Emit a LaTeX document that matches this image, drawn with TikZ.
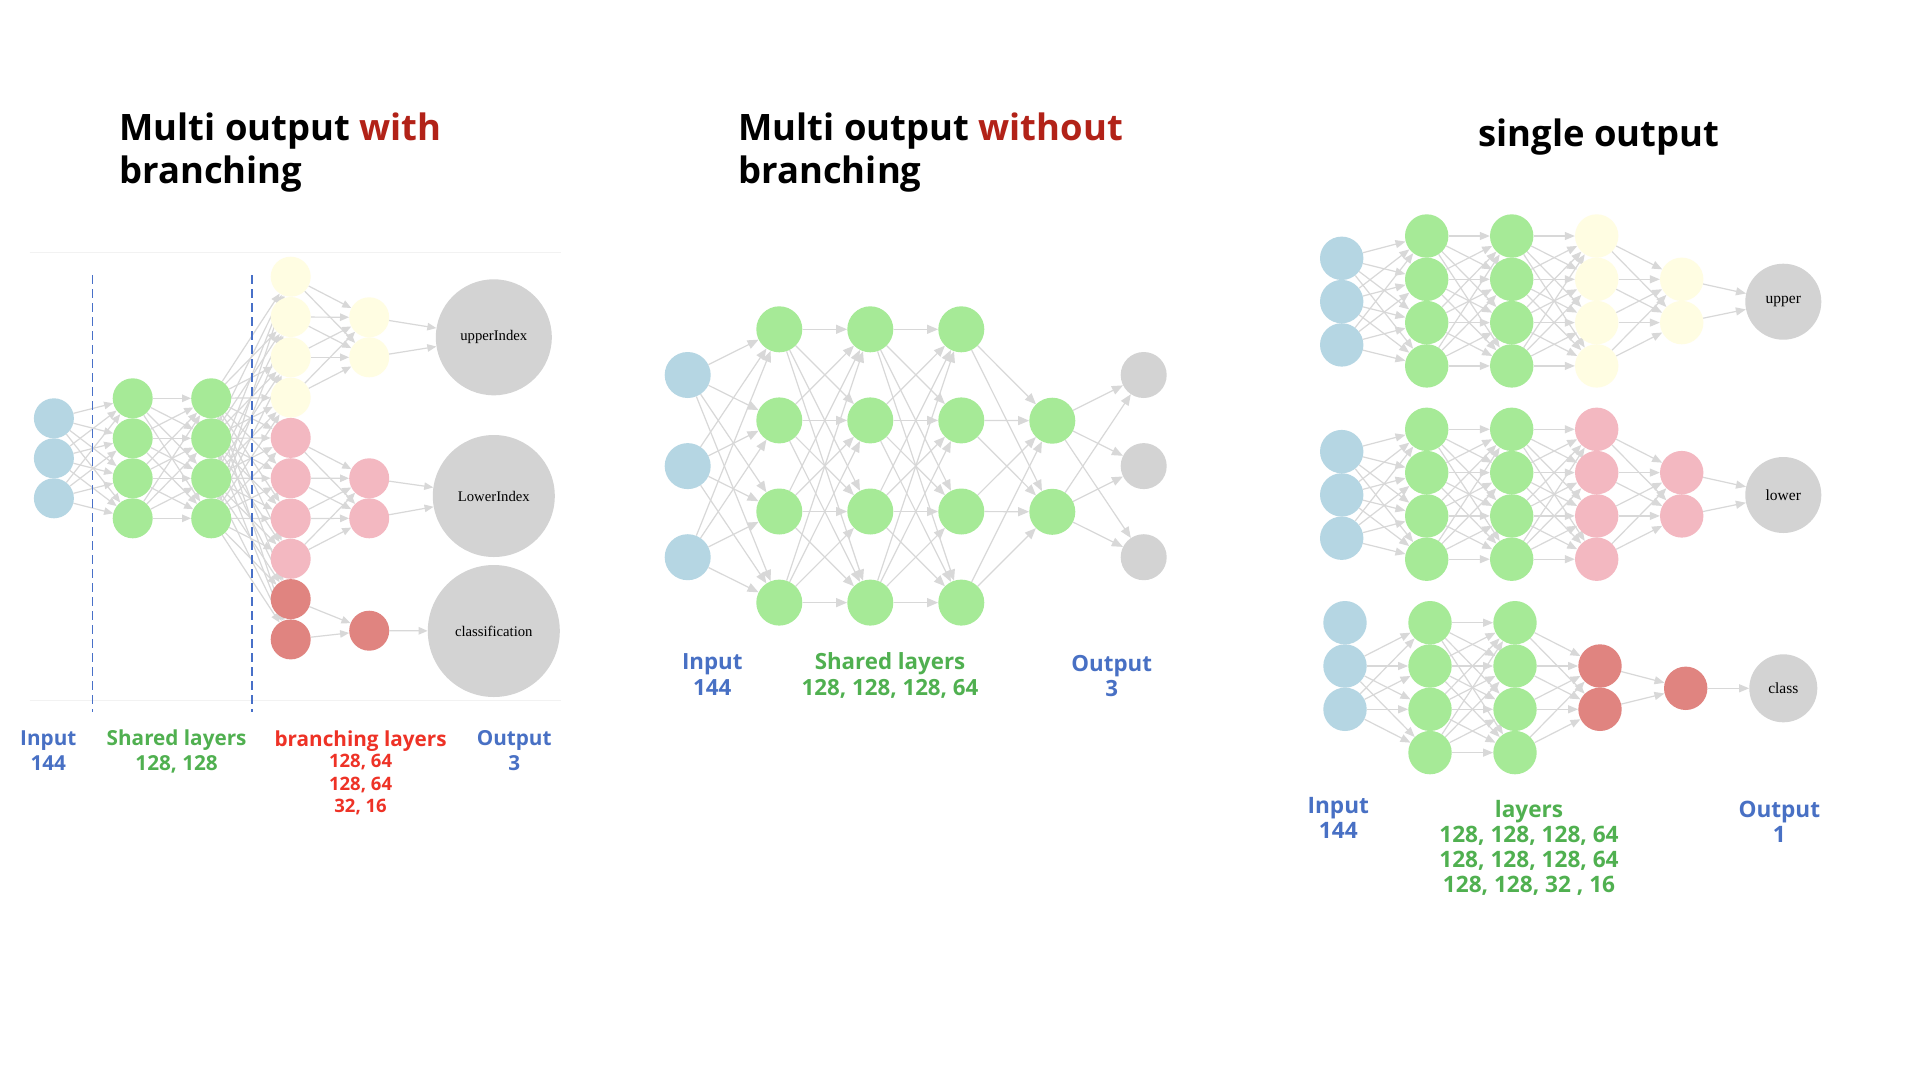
\documentclass[tikz,border=0pt]{standalone}
\usepackage{fontspec}
\setmainfont{Open Sans}
\newfontfamily\nodefont{Liberation Serif}
\usetikzlibrary{arrows.meta}

\definecolor{inblue}{RGB}{181,214,227}
\definecolor{hidgreen}{RGB}{166,234,151}
\definecolor{upyellow}{RGB}{255,253,226}
\definecolor{lowpink}{RGB}{243,184,193}
\definecolor{clsred}{RGB}{224,132,128}
\definecolor{outgray}{RGB}{211,211,211}
\definecolor{edgegray}{RGB}{216,216,216}
\definecolor{lblblue}{RGB}{72,112,196}
\definecolor{lblgreen}{RGB}{80,176,80}
\definecolor{lblred}{RGB}{238,50,38}
\definecolor{titlered}{RGB}{178,34,24}
\definecolor{dashblue}{RGB}{72,112,200}
\definecolor{framegray}{RGB}{242,242,242}

\pgfdeclarelayer{back}
\pgfdeclarelayer{edges}
\pgfsetlayers{back,edges,main}

\tikzset{
  neuron/.style={circle, draw=none, inner sep=0pt},
  conn/.style={->, draw=edgegray, line width=1.2pt},
  title/.style={anchor=base west, font=\fontsize{36.4}{43}\selectfont\bfseries},
  lbl/.style={anchor=base, align=center, font=\fontsize{20.7}{24.3}\selectfont\bfseries},
}

\begin{document}
\begin{tikzpicture}[x=1pt, y=-1pt]
  \begin{pgfonlayer}{back}
    \fill[white] (0,0) rectangle (1920,1080);
  \end{pgfonlayer}
  \useasboundingbox (0,0) rectangle (1920,1080);

  % Multi output with branching
  \node[title] (ttl-a1) at (116,140) {Multi output \textcolor{titlered}{with}};
  \node[title] (ttl-a2) at (116,183.3) {branching};
  \draw[framegray, line width=1pt] (29.7,252.7) -- (561,252.7);
  \draw[framegray, line width=1pt] (29.7,700) -- (561,700);
  \draw[dashblue, line width=1.6pt, dash pattern=on 9pt off 5pt] (92.6,275) -- (92.6,711.7);
  \draw[dashblue, line width=1.6pt, dash pattern=on 9pt off 5pt] (252.1,275) -- (252.1,711.7);

  \foreach \i in {1,2,3}
    \node[neuron, fill=inblue, minimum size=40pt] (a-in\i) at (53.9,378.3+40*\i) {};
  \foreach \i in {1,...,4} {
    \node[neuron, fill=hidgreen, minimum size=40pt] (a-h1-\i) at (132.7,358.3+40*\i) {};
    \node[neuron, fill=hidgreen, minimum size=40pt] (a-h2-\i) at (211.2,358.3+40*\i) {};
  }
  \foreach \i/\c in {1/upyellow,2/upyellow,3/upyellow,4/upyellow,5/lowpink,6/lowpink,7/lowpink,8/lowpink,9/clsred,10/clsred}
    \node[neuron, fill=\c, minimum size=40pt] (a-b\i) at (290.7,236.4+40.3*\i) {};
  \foreach \i/\y in {1/317.3,2/357.3}
    \node[neuron, fill=upyellow, minimum size=40pt] (a-up\i) at (369.2,\y) {};
  \foreach \i/\y in {1/478.3,2/518.3}
    \node[neuron, fill=lowpink, minimum size=40pt] (a-lo\i) at (369.2,\y) {};
  \node[neuron, fill=clsred, minimum size=40pt] (a-cl) at (369.2,630.7) {};

  \node[neuron, fill=outgray, minimum size=116pt, font=\nodefont\fontsize{14.7}{16}\selectfont] (a-upper) at (493.8,337.3) {upperIndex};
  \node[neuron, fill=outgray, minimum size=122pt, font=\nodefont\fontsize{14.7}{16}\selectfont] (a-lower) at (493.8,496) {LowerIndex};
  \node[neuron, fill=outgray, minimum size=132pt, font=\nodefont\fontsize{14.7}{16}\selectfont] (a-class) at (493.8,631) {classification};

  \begin{pgfonlayer}{edges}
  \begin{scope}[>={Triangle[length=9pt,width=7.5pt]}]
    \foreach \i in {1,2,3} \foreach \j in {1,...,4} \draw[conn] (a-in\i) -- (a-h1-\j);
    \foreach \i in {1,...,4} \foreach \j in {1,...,4} \draw[conn] (a-h1-\i) -- (a-h2-\j);
    \foreach \i in {1,...,4} \foreach \j in {1,...,10} \draw[conn] (a-h2-\i) -- (a-b\j);
    \foreach \i in {1,...,4} \foreach \j in {1,2} \draw[conn] (a-b\i) -- (a-up\j);
    \foreach \i in {5,...,8} \foreach \j in {1,2} \draw[conn] (a-b\i) -- (a-lo\j);
    \foreach \i in {9,10} \draw[conn] (a-b\i) -- (a-cl);
    \foreach \j in {1,2} {
      \draw[conn] (a-up\j) -- (a-upper);
      \draw[conn] (a-lo\j) -- (a-lower);
    }
    \draw[conn] (a-cl) -- (a-class);
  \end{scope}
  \end{pgfonlayer}

  \node[lbl, text=lblblue] (a-lin) at (48.3,770) {Input\\144};
  \node[lbl, text=lblgreen] (a-lsh) at (176.6,770) {Shared layers\\128, 128};
  \node[lbl, text=lblred] (a-lbr) at (360.6,746) {branching layers};
  \node[lbl, text=lblred, font=\fontsize{18.5}{22.3}\selectfont\bfseries] (a-lbn) at (360.6,812.3) {128, 64\\128, 64\\32, 16};
  \node[lbl, text=lblblue] (a-lout) at (514.2,770) {Output\\3};

  % Multi output without branching
  \node[title] (ttl-b1) at (735,140) {Multi output \textcolor{titlered}{without}};
  \node[title] (ttl-b2) at (735,183.3) {branching};

  \foreach \i in {1,2,3} {
    \node[neuron, fill=inblue, minimum size=46pt] (b-in\i) at (687.7,283.9+91.1*\i) {};
    \node[neuron, fill=outgray, minimum size=46pt] (b-out\i) at (1143.7,283.9+91.1*\i) {};
  }
  \foreach \k/\x in {1/779.3,2/870.3,3/961.3}
    \foreach \i in {1,...,4}
      \node[neuron, fill=hidgreen, minimum size=46pt] (b-h\k-\i) at (\x,238.2+91.1*\i) {};
  \foreach \i in {1,2}
    \node[neuron, fill=hidgreen, minimum size=46pt] (b-h4-\i) at (1052.3,329.6+91.1*\i) {};

  \begin{pgfonlayer}{edges}
  \begin{scope}[>={Triangle[length=11pt,width=9pt]}]
    \foreach \i in {1,2,3} \foreach \j in {1,...,4} \draw[conn] (b-in\i) -- (b-h1-\j);
    \foreach \i in {1,...,4} \foreach \j in {1,...,4} {
      \draw[conn] (b-h1-\i) -- (b-h2-\j);
      \draw[conn] (b-h2-\i) -- (b-h3-\j);
    }
    \foreach \i in {1,...,4} \foreach \j in {1,2} \draw[conn] (b-h3-\i) -- (b-h4-\j);
    \foreach \i in {1,2} \foreach \j in {1,2,3} \draw[conn] (b-h4-\i) -- (b-out\j);
  \end{scope}
  \end{pgfonlayer}

  \node[lbl, text=lblblue, font=\fontsize{22.3}{25.7}\selectfont\bfseries] (b-lin) at (712.3,695) {Input\\144};
  \node[lbl, text=lblgreen, font=\fontsize{22.3}{25.7}\selectfont\bfseries] (b-lsh) at (890,695) {Shared layers\\128, 128, 128, 64};
  \node[lbl, text=lblblue, font=\fontsize{22.3}{25.7}\selectfont\bfseries] (b-lout) at (1111.7,696.7) {Output\\3};

  % single output
  \node[title] (ttl-c) at (1475,146) {single output};

  \foreach \n/\dy/\c in {u/0/upyellow, l/193.3/lowpink} {
    \foreach \i in {1,2,3}
      \node[neuron, fill=inblue, minimum size=43.4pt] (c\n-in\i) at (1341.7,215+43.3*\i+\dy) {};
    \foreach \i in {1,...,4} {
      \node[neuron, fill=hidgreen, minimum size=43.4pt] (c\n-h1-\i) at (1426.7,192.7+43.3*\i+\dy) {};
      \node[neuron, fill=hidgreen, minimum size=43.4pt] (c\n-h2-\i) at (1511.7,192.7+43.3*\i+\dy) {};
      \node[neuron, fill=\c, minimum size=43.4pt] (c\n-h3-\i) at (1596.7,192.7+43.3*\i+\dy) {};
    }
    \foreach \i in {1,2}
      \node[neuron, fill=\c, minimum size=43.4pt] (c\n-h4-\i) at (1681.7,236+43.3*\i+\dy) {};
  }
  \node[neuron, fill=outgray, minimum size=76pt, font=\nodefont\fontsize{15.5}{17}\selectfont] (cu-out) at (1783.3,301.7) {upper};
  \node[neuron, fill=outgray, minimum size=76pt, font=\nodefont\fontsize{15.5}{17}\selectfont] (cl-out) at (1783.3,495) {lower};

  \foreach \i in {1,2,3}
    \node[neuron, fill=inblue, minimum size=43.4pt] (cc-in\i) at (1345,579.4+43.3*\i) {};
  \foreach \i in {1,...,4} {
    \node[neuron, fill=hidgreen, minimum size=43.4pt] (cc-h1-\i) at (1430,579.4+43.3*\i) {};
    \node[neuron, fill=hidgreen, minimum size=43.4pt] (cc-h2-\i) at (1515,579.4+43.3*\i) {};
  }
  \foreach \i in {1,2}
    \node[neuron, fill=clsred, minimum size=43.4pt] (cc-h3-\i) at (1600,622.7+43.3*\i) {};
  \node[neuron, fill=clsred, minimum size=43.4pt] (cc-h4) at (1685.7,688.3) {};
  \node[neuron, fill=outgray, minimum size=68pt, font=\nodefont\fontsize{15.5}{17}\selectfont] (cc-out) at (1783.3,688.3) {class};

  \begin{pgfonlayer}{edges}
  \begin{scope}[>={Triangle[length=10pt,width=8pt]}]
    \foreach \n in {u,l} {
      \foreach \i in {1,2,3} \foreach \j in {1,...,4} \draw[conn] (c\n-in\i) -- (c\n-h1-\j);
      \foreach \i in {1,...,4} \foreach \j in {1,...,4} {
        \draw[conn] (c\n-h1-\i) -- (c\n-h2-\j);
        \draw[conn] (c\n-h2-\i) -- (c\n-h3-\j);
      }
      \foreach \i in {1,...,4} \foreach \j in {1,2} \draw[conn] (c\n-h3-\i) -- (c\n-h4-\j);
      \foreach \j in {1,2} \draw[conn] (c\n-h4-\j) -- (c\n-out);
    }
    \foreach \i in {2,3} \foreach \j in {1,...,4} \draw[conn] (cc-in\i) -- (cc-h1-\j);
    \foreach \i in {1,...,4} \foreach \j in {1,...,4} \draw[conn] (cc-h1-\i) -- (cc-h2-\j);
    \foreach \i in {1,...,4} \foreach \j in {1,2} \draw[conn] (cc-h2-\i) -- (cc-h3-\j);
    \foreach \i in {1,2} \draw[conn] (cc-h3-\i) -- (cc-h4);
    \draw[conn] (cc-h4) -- (cc-out);
  \end{scope}
  \end{pgfonlayer}

  \node[lbl, text=lblblue, font=\fontsize{22.6}{25}\selectfont\bfseries] (c-lin) at (1338.3,838.3) {Input\\144};
  \node[lbl, text=lblgreen, font=\fontsize{22.6}{25}\selectfont\bfseries] (c-lly) at (1529,892.7) {layers\\128, 128, 128, 64\\128, 128, 128, 64\\128, 128, 32 , 16};
  \node[lbl, text=lblblue, font=\fontsize{22.6}{25}\selectfont\bfseries] (c-lout) at (1779.3,842.7) {Output\\1};
\end{tikzpicture}
\end{document}
